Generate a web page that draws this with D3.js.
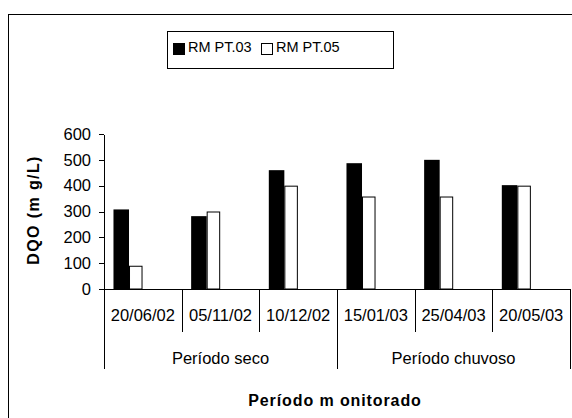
<!DOCTYPE html>
<meta charset="utf-8">
<style>
body { margin: 0; background: #fff; }
text { font-family: "Liberation Sans", Arial, sans-serif; fill: #000; }
.axis path, .axis line { stroke: #000; stroke-width: 1px; shape-rendering: crispEdges; }
.axis text { font-size: 16.5px; }
.sep { stroke: #000; stroke-width: 1px; shape-rendering: crispEdges; }
</style>
<svg width="572" height="418"></svg>
<script src="https://d3js.org/d3.v7.min.js"></script>
<script>

// data
var dates = ["20/06/02", "05/11/02", "10/12/02", "15/01/03", "25/04/03", "20/05/03"];
var rmPT03 = [308, 282, 460, 487, 500, 402];
var rmPT05 = [90, 300, 400, 358, 358, 400];
var periods = ["Período seco", "Período chuvoso"];
var periodSize = [3, 3];
var yTicks = [0, 100, 200, 300, 400, 500, 600];
var seriesNames = ["RM PT.03", "RM PT.05"];

var svg = d3.select("svg");

// outer frame (right/bottom edges fall outside the picture)
svg.append("rect")
    .attr("x", 8.5).attr("y", 14.5)
    .attr("width", 600).attr("height", 600)
    .attr("fill", "none").attr("stroke", "#000");

var plot = {left: 104, right: 570, top: 134, bottom: 289};

var x = d3.scaleBand().domain(dates).range([plot.left, plot.right]);
var y = d3.scaleLinear().domain([0, 600]).range([plot.bottom, plot.top]);
var bw = x.bandwidth();

var g = svg.append("g");

// bars
g.selectAll(".b03").data(dates).enter().append("rect")
    .attr("x", function(d) { return x(d) + bw * 0.122; })
    .attr("width", bw * 0.2)
    .attr("y", function(d, i) { return y(rmPT03[i]); })
    .attr("height", function(d, i) { return y(0) - y(rmPT03[i]); })
    .attr("fill", "#000");

g.selectAll(".b05").data(dates).enter().append("rect")
    .attr("x", function(d) { return x(d) + bw * 0.322 + 0.5; })
    .attr("width", bw * 0.174 - 1)
    .attr("y", function(d, i) { return y(rmPT05[i]) + 0.5; })
    .attr("height", function(d, i) { return y(0) - y(rmPT05[i]) - 0.5; })
    .attr("fill", "#fff").attr("stroke", "#000").attr("stroke-width", 1);

// y axis
g.append("g")
    .attr("class", "axis")
    .attr("transform", "translate(" + plot.left + ",0)")
    .call(d3.axisLeft(y).tickValues(yTicks).tickSize(5).tickSizeOuter(0).tickPadding(8));

// x axis line
g.append("line").attr("class", "sep")
    .attr("x1", plot.left - 5).attr("x2", plot.right)
    .attr("y1", plot.bottom + 0.5).attr("y2", plot.bottom + 0.5);

// separators between categories and groups
var bounds = [0];
periodSize.reduce(function(acc, n) { bounds.push(acc + n); return acc + n; }, 0);
d3.range(dates.length + 1).forEach(function(i) {
  var xi = i < dates.length ? x(dates[i]) : plot.right;
  var isGroup = bounds.indexOf(i) >= 0;
  g.append("line").attr("class", "sep")
      .attr("x1", Math.round(xi) + 0.5).attr("x2", Math.round(xi) + 0.5)
      .attr("y1", plot.bottom).attr("y2", isGroup ? 369 : 332);
});

// date labels
g.selectAll(".dl").data(dates).enter().append("text")
    .attr("x", function(d) { return x(d) + bw / 2; })
    .attr("y", 321)
    .attr("text-anchor", "middle")
    .style("font-size", "16.5px")
    .text(function(d) { return d; });

// period labels
var start = 0;
periods.forEach(function(p, k) {
  var a = x(dates[start]), end = start + periodSize[k];
  var b = end < dates.length ? x(dates[end]) : plot.right;
  g.append("text")
      .attr("x", (a + b) / 2).attr("y", 364)
      .attr("text-anchor", "middle")
      .style("font-size", "16.5px")
      .text(p);
  start = end;
});

// axis titles
svg.append("text")
    .attr("x", (plot.left + plot.right) / 2 - 2).attr("y", 406)
    .attr("text-anchor", "middle")
    .style("font-size", "16px").style("font-weight", "bold").style("letter-spacing", "0.9px")
    .text("Período m onitorado");

svg.append("text")
    .attr("transform", "translate(39," + 210 + ") rotate(-90)")
    .attr("text-anchor", "middle")
    .style("font-size", "16px").style("font-weight", "bold").style("letter-spacing", "1.4px")
    .text("DQO (m g/L)");

// legend
var lg = svg.append("g");
lg.append("rect")
    .attr("x", 167.5).attr("y", 31.5).attr("width", 226).attr("height", 37)
    .attr("fill", "#fff").attr("stroke", "#000");
var lx = [173, 261];
seriesNames.forEach(function(s, i) {
  lg.append("rect")
      .attr("x", lx[i] + 0.5).attr("y", 43.5).attr("width", 11).attr("height", 11)
      .attr("fill", i === 0 ? "#000" : "#fff").attr("stroke", "#000");
  lg.append("text")
      .attr("x", lx[i] + 15).attr("y", 51.5)
      .style("font-size", "14.5px")
      .text(s);
});

</script>
